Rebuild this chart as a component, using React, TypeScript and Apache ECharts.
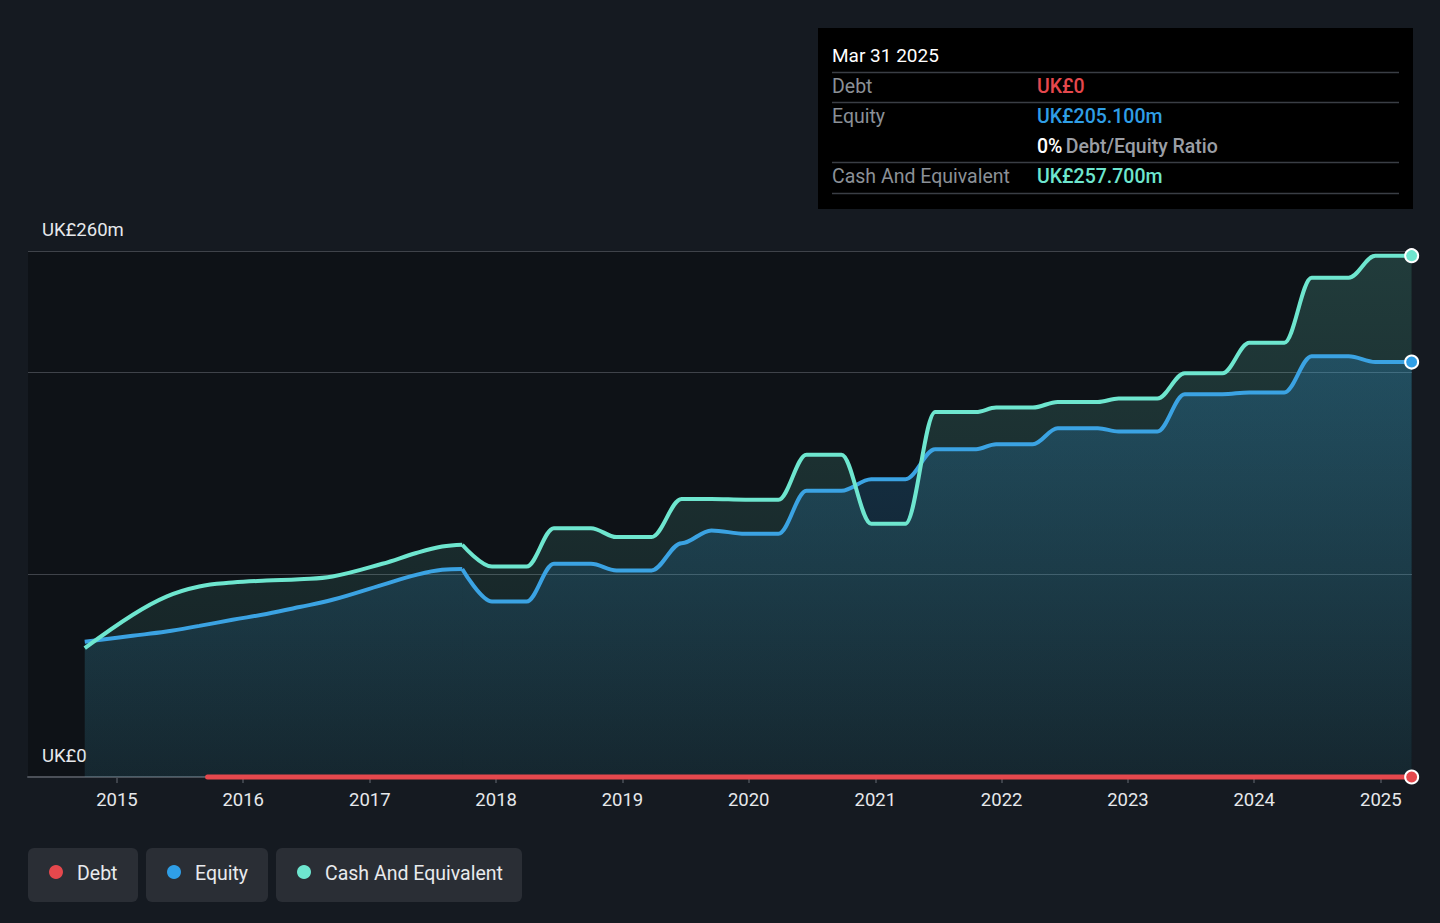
import React, { useEffect, useRef } from "react";
import * as echarts from "echarts";

// ---- data (UK£ millions) ----
const dates = [
  "2014-09-30", "2015-02-15", "2015-05-24", "2015-08-27", "2015-12-01",
  "2016-03-08", "2016-06-12", "2016-09-15", "2017-02-06",
  "2017-05-15", "2017-07-29", "2017-09-25", "2017-12-20", "2018-03-30",
  "2018-06-17", "2018-10-02", "2018-12-15", "2019-03-26", "2019-06-21",
  "2019-09-15", "2019-12-22", "2020-03-27", "2020-06-16", "2020-09-25",
  "2020-12-20", "2021-03-29", "2021-06-23", "2021-10-19", "2021-12-16",
  "2022-04-01", "2022-06-12", "2022-10-06", "2022-12-05", "2023-03-27",
  "2023-06-14", "2023-10-01", "2023-12-18", "2024-03-28", "2024-06-15",
  "2024-09-30", "2024-12-16", "2025-03-31",
];

const cashValues = [
  63.7, 80.1, 89.2, 94.2, 96.1,
  97.1, 97.8, 99.1, 105.4,
  110.7, 113.9, 114.8, 104.0, 104.0,
  123.0, 123.0, 118.6, 118.6, 137.4,
  137.4, 137.1, 137.0, 159.3, 159.3,
  125.2, 125.2, 180.4, 180.4, 182.6,
  182.6, 185.4, 185.4, 187.1, 187.1,
  199.6, 199.6, 214.7, 214.7, 246.8,
  246.8, 257.7, 257.7,
];

const equityValues = [
  66.9, 69.8, 71.9, 74.7, 77.7,
  80.6, 84.0, 87.6, 95.0,
  99.9, 102.4, 102.8, 86.7, 86.7,
  105.4, 105.4, 102.1, 102.1, 115.6,
  121.9, 120.2, 120.2, 141.5, 141.5,
  147.2, 147.2, 162.0, 162.0, 164.5,
  164.5, 172.4, 172.4, 170.8, 170.8,
  189.2, 189.2, 190.1, 190.1, 208.0,
  208.0, 205.1, 205.1,
];

// index where the gently curving early history ends and the stepped history begins
const smoothSplitIndex = 11;

const debtDates = ["2015-09-20", "2025-03-31"];
const debtValues = [0, 0];

const yMax = 260;
const yLabels: Record<number, string> = { 0: "UK£0", 260: "UK£260m" };

const tooltipTitle = "Mar 31 2025";
const tooltipRows = [
  { label: "Debt", value: "UK£0", color: "#e5484d" },
  { label: "Equity", value: "UK£205.100m", color: "#2f9ee6" },
  { label: "Cash And Equivalent", value: "UK£257.700m", color: "#6ee6cf" },
];
const ratioText = "0%";
const ratioLabel = "Debt/Equity Ratio";

const legendItems = [
  { name: "Debt", color: "#e5484d" },
  { name: "Equity", color: "#2f9ee6" },
  { name: "Cash And Equivalent", color: "#6ee6cf" },
];

const FONT = "Roboto, 'Noto Sans', sans-serif";
const BG = "#151a21";
const DAY = 24 * 3600 * 1000;

function buildData(ds: string[], vs: number[], color: string, withEnd: boolean) {
  return ds.map((d, i) => {
    const last = i === ds.length - 1;
    if (last && withEnd) {
      return {
        value: [d, vs[i]],
        symbol: "circle",
        symbolSize: 13,
        itemStyle: { color, borderColor: "#ffffff", borderWidth: 2 },
      };
    }
    return { value: [d, vs[i]], symbol: "none" };
  });
}

function splitSeries(base: any, vs: number[], color: string, withEnd: boolean) {
  const early = buildData(dates.slice(0, smoothSplitIndex + 1), vs.slice(0, smoothSplitIndex + 1), color, false);
  const late = buildData(dates.slice(smoothSplitIndex), vs.slice(smoothSplitIndex), color, withEnd);
  return [
    { ...base, name: base.name + "-early", data: early, smooth: 0.4 },
    { ...base, data: late, smooth: 0.35, smoothMonotone: "x" },
  ];
}

export default function App() {
  const ref = useRef<HTMLDivElement>(null);

  useEffect(() => {
    document.body.style.margin = "0";
    document.body.style.background = BG;
    if (!ref.current) return;
    const chart = echarts.init(ref.current, undefined, { renderer: "svg" });

    const graphics: any[] = [];
    // tooltip box
    const bx = 818, by = 28, bw = 595, bh = 181;
    graphics.push({
      type: "rect",
      shape: { x: bx, y: by, width: bw, height: bh },
      style: { fill: "#000000" },
      z: 100,
    });
    graphics.push({
      type: "text",
      x: 832, y: 55,
      style: { text: tooltipTitle, fill: "#ffffff", font: `400 19px ${FONT}`, verticalAlign: "middle" },
      z: 101,
    });
    const sepYs = [72.5, 102.5, 162.5, 193.5];
    sepYs.forEach((sy) =>
      graphics.push({
        type: "line",
        shape: { x1: 832, y1: sy, x2: 1399, y2: sy },
        style: { stroke: "#3a3e45", lineWidth: 1.5 },
        z: 101,
      })
    );
    const rowYs = [86, 116, 176];
    tooltipRows.forEach((r, i) => {
      graphics.push({
        type: "text",
        x: 832, y: rowYs[i],
        style: { text: r.label, fill: "#8b9097", font: `400 19.5px ${FONT}`, verticalAlign: "middle" },
        z: 101,
      });
      graphics.push({
        type: "text",
        x: 1037, y: rowYs[i],
        style: { text: r.value, fill: r.color, font: `500 19.5px ${FONT}`, verticalAlign: "middle" },
        z: 101,
      });
    });
    graphics.push({
      type: "text",
      x: 1037, y: 146,
      style: {
        text: `{a|${ratioText}} {b|${ratioLabel}}`,
        verticalAlign: "middle",
        rich: {
          a: { fill: "#ffffff", font: `500 19.5px ${FONT}` },
          b: { fill: "#9a9ea5", font: `500 19.5px ${FONT}` },
        },
      },
      z: 101,
    });

    // legend chips
    const chipX = [28, 146, 276];
    const chipW = [110, 122, 246];
    legendItems.forEach((it, i) => {
      graphics.push({
        type: "rect",
        shape: { x: chipX[i], y: 848, width: chipW[i], height: 54, r: 6 },
        style: { fill: "#2a2e35" },
      });
      graphics.push({
        type: "circle",
        shape: { cx: chipX[i] + 28, cy: 872, r: 7 },
        style: { fill: it.color },
      });
      graphics.push({
        type: "text",
        x: chipX[i] + 49, y: 873,
        style: { text: it.name, fill: "#e8eaed", font: `400 19.5px ${FONT}`, verticalAlign: "middle" },
      });
    });

    // global (pixel) gradients so both halves of each area share one shading
    const cashArea = {
      name: "CashArea", type: "line",
      showSymbol: false,
      lineStyle: { width: 0, opacity: 0 },
      areaStyle: {
        color: new echarts.graphic.LinearGradient(0, 255, 0, 777, [
          { offset: 0, color: "rgba(110,230,207,0.28)" },
          { offset: 1, color: "rgba(110,230,207,0.08)" },
        ], true),
      },
      silent: true,
    };
    const equityArea = {
      name: "EquityArea", type: "line",
      showSymbol: false,
      lineStyle: { width: 0, opacity: 0 },
      areaStyle: {
        color: new echarts.graphic.LinearGradient(0, 355, 0, 777, [
          { offset: 0, color: "rgba(45,158,232,0.34)" },
          { offset: 1, color: "rgba(45,158,232,0.10)" },
        ], true),
      },
      silent: true,
    };
    const equityLine = {
      name: "Equity", type: "line",
      showSymbol: true, showAllSymbol: true,
      lineStyle: { width: 4, color: "#3ba3e3" },
      itemStyle: { color: "#2f9ee6" },
      clip: false,
    };
    const cashLine = {
      name: "Cash And Equivalent", type: "line",
      showSymbol: true, showAllSymbol: true,
      lineStyle: { width: 4, color: "#6ee6cf" },
      itemStyle: { color: "#6ee6cf" },
      clip: false,
    };

    const option: any = {
      animation: false,
      backgroundColor: BG,
      grid: {
        left: 28, right: 28, top: 251, bottom: 146,
        show: true, backgroundColor: "#0e1217", borderWidth: 0,
        containLabel: false,
      },
      xAxis: {
        type: "time",
        min: new Date(2014, 3, 19).getTime(),
        max: new Date(2025, 3, 1).getTime(),
        minInterval: 365 * DAY,
        maxInterval: 366 * DAY,
        axisLine: { show: true, lineStyle: { color: "#4b5058", width: 2 } },
        axisTick: {
          show: true, length: 6,
          lineStyle: { color: "#4b5058", width: 1.5 },
        },
        axisLabel: {
          showMinLabel: false, showMaxLabel: false,
          formatter: (v: number) => String(new Date(v).getFullYear()),
          color: "#e6e8eb", fontSize: 18.5, fontFamily: FONT, margin: 13,
        },
        splitLine: { show: false },
      },
      yAxis: {
        type: "value",
        min: 0, max: yMax, interval: 100,
        axisLine: { show: false },
        axisTick: { show: false },
        axisLabel: {
          inside: true, margin: 14,
          verticalAlign: "bottom",
          padding: [0, 0, 12, 0],
          color: "#e6e8eb", fontSize: 18.5, fontFamily: FONT,
          formatter: (v: number) => yLabels[v] ?? "",
        },
        splitLine: { show: true, lineStyle: { color: "#3f434a", width: 1.2 } },
      },
      series: [
        ...splitSeries(cashArea, cashValues, "#6ee6cf", false),
        ...splitSeries(equityArea, equityValues, "#2f9ee6", false),
        ...splitSeries(equityLine, equityValues, "#2f9ee6", true),
        ...splitSeries(cashLine, cashValues, "#6ee6cf", true),
        {
          name: "Debt", type: "line",
          data: buildData(debtDates, debtValues, "#e5484d", true),
          showSymbol: true, showAllSymbol: true,
          lineStyle: { width: 5, color: "#e5484d", cap: "round" },
          itemStyle: { color: "#e5484d" },
          clip: false,
        },
      ],
      graphic: graphics,
    };

    chart.setOption(option);
    return () => chart.dispose();
  }, []);

  return (
    <div
      ref={ref}
      style={{ position: "absolute", left: 0, top: 0, width: 1440, height: 923, background: BG }}
    />
  );
}
